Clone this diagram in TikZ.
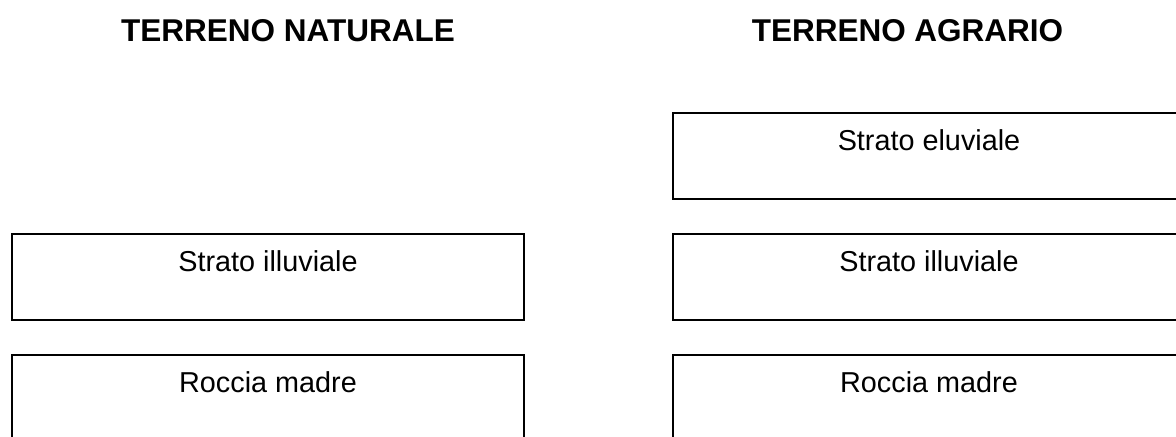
\documentclass[tikz,border=0pt]{standalone}
\usepackage{fontspec}
\setmainfont{Liberation Sans}
\usetikzlibrary{positioning}

\begin{document}
\begin{tikzpicture}[
    x=0.5pt, y=-0.5pt,
    layer/.style={draw,line width=1pt,inner xsep=0pt,inner ysep=0pt,outer sep=0pt,minimum width=256pt,text height=19pt,text depth=24pt,font=\fontsize{14.4}{17}\selectfont},
    heading/.style={anchor=base,font=\fontsize{15.75}{19}\selectfont\bfseries}
  ]
    \useasboundingbox (0,0) rectangle (1176,437);
    \clip (0,0) rectangle (1176,437);

    \node[heading] (natTitle) at (288,42) {TERRENO NATURALE};
    \node[layer, anchor=north] (natIlluv) at (268,234) {Strato illuviale};
    \node[layer, below=17.5pt of natIlluv] (natRoccia) {Roccia madre};

    \node[heading] (agrTitle) at (907.5,42) {TERRENO AGRARIO};
    \node[layer, anchor=north] (agrEluv) at (929,113) {Strato eluviale};
    \node[layer, below=17.5pt of agrEluv] (agrIlluv) {Strato illuviale};
    \node[layer, below=17.5pt of agrIlluv] (agrRoccia) {Roccia madre};
  \end{tikzpicture}
\end{document}
